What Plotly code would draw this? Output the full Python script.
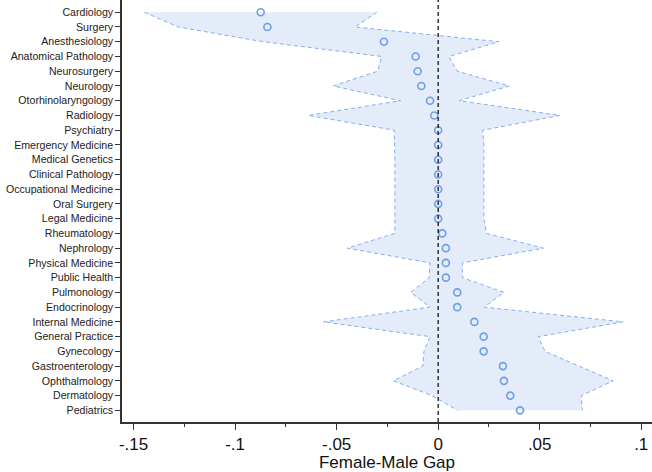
import plotly.graph_objects as go

categories = ["Cardiology", "Surgery", "Anesthesiology", "Anatomical Pathology", "Neurosurgery",
              "Neurology", "Otorhinolaryngology", "Radiology", "Psychiatry", "Emergency Medicine",
              "Medical Genetics", "Clinical Pathology", "Occupational Medicine", "Oral Surgery",
              "Legal Medicine", "Rheumatology", "Nephrology", "Physical Medicine", "Public Health",
              "Pulmonology", "Endocrinology", "Internal Medicine", "General Practice", "Gynecology",
              "Gastroenterology", "Ophthalmology", "Dermatology", "Pediatrics"]

gap = [-0.0874, -0.0841, -0.0267, -0.0111, -0.0101, -0.0083, -0.0040, -0.0019, 0.0, 0.0,
       0.0, 0.0, 0.0, 0.0, 0.0, 0.002, 0.0038, 0.0038, 0.0038, 0.0094,
       0.0094, 0.0178, 0.0224, 0.0224, 0.0319, 0.0324, 0.0355, 0.0403]

lower = [-0.1447, -0.128, -0.0861, -0.0278, -0.0298, -0.0517, -0.0185, -0.064, -0.0216, -0.0213,
         -0.0213, -0.0213, -0.0213, -0.0213, -0.0213, -0.0213, -0.0448, -0.004, -0.0044, -0.0135,
         -0.004, -0.0566, -0.004, -0.007, -0.0076, -0.0221, -0.003, 0.0095]

upper = [-0.0302, -0.041, 0.0299, 0.0053, 0.0094, 0.035, 0.0104, 0.060, 0.0219, 0.0225,
         0.0225, 0.0225, 0.0225, 0.0225, 0.0225, 0.0239, 0.0518, 0.0119, 0.0119, 0.0324,
         0.0227, 0.0911, 0.0493, 0.0526, 0.0695, 0.0862, 0.0705, 0.071]

tick_vals = [-0.15, -0.1, -0.05, 0, 0.05, 0.1]
tick_text = ["-.15", "-.1", "-.05", "0", ".05", ".1"]

ypos = list(range(len(categories)))

fill_color = "#e4ecf9"
line_color = "#86aef0"
dot_color = "#6e9ee9"

fig = go.Figure()

# filled band
fig.add_trace(go.Scatter(
    x=lower + upper[::-1], y=ypos + ypos[::-1],
    fill="toself", fillcolor=fill_color, line=dict(width=0),
    mode="lines", hoverinfo="skip", showlegend=False))

for bound in (lower, upper):
    fig.add_trace(go.Scatter(
        x=bound, y=ypos, mode="lines",
        line=dict(color=line_color, width=1, dash="4px,3px"),
        showlegend=False, hoverinfo="skip"))

fig.add_trace(go.Scatter(
    x=gap, y=ypos, mode="markers",
    marker=dict(symbol="circle-open", size=7, color=dot_color, line=dict(width=1.6, color=dot_color)),
    showlegend=False))

fig.add_shape(type="line", x0=0, x1=0, xref="x", y0=0, y1=1, yref="paper",
              line=dict(color="black", width=1.2, dash="4px,3px"))

fig.update_layout(
    width=652, height=472,
    margin=dict(l=122, r=0, t=0, b=50, autoexpand=False),
    plot_bgcolor="white", paper_bgcolor="white",
    font=dict(family="Liberation Sans, Arial, sans-serif", color="#222"),
    xaxis=dict(
        automargin=False,
        range=[-0.1557, 0.1053], tickvals=tick_vals, ticktext=tick_text,
        showgrid=False, zeroline=False, showline=True, linecolor="#333", linewidth=1.5,
        ticks="outside", ticklen=6, tickwidth=1.2, tickcolor="#333",
        tickfont=dict(size=17, color="#111"),
        minor=dict(ticks="outside", ticklen=3, tickwidth=1, tickcolor="#333", dtick=0.025, tick0=0),
        title=dict(text="Female-Male Gap", font=dict(size=17, color="#111"), standoff=0),
    ),
    yaxis=dict(
        automargin=False,
        range=[27.79, -0.83], tickvals=ypos, ticktext=categories,
        showgrid=False, zeroline=False, showline=True, linecolor="#333", linewidth=1.5,
        ticks="outside", ticklen=5, tickwidth=1.2, tickcolor="#333",
        tickfont=dict(size=10.6, color="#222"),
    ),
)

fig.write_html("out.html", config={"displayModeBar": False},
               post_script="document.body.style.margin='0';")
